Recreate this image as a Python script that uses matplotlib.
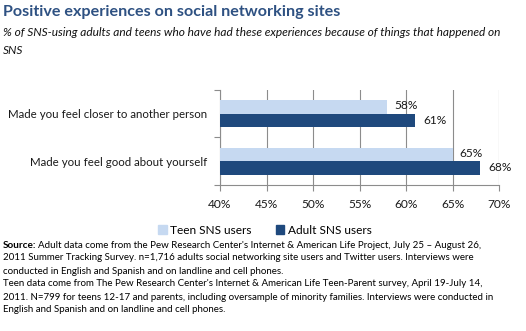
import matplotlib
matplotlib.use("Agg")
import matplotlib.pyplot as plt
from matplotlib.patches import Patch

plt.rcParams['font.family'] = ['Lato', 'DejaVu Sans']

categories = ["Made you feel closer to another person", "Made you feel good about yourself"]
teen = [58, 65]
adult = [61, 68]
ticks = [40, 45, 50, 55, 60, 65, 70]

teen_col = '#C6D9F1'
adult_col = '#1F497D'
grid_col = '#8C8C8C'
txt_col = '#1a1a1a'
W, H = 526, 331
fs = 8.6

fig = plt.figure(figsize=(W / 100, H / 100), dpi=100)

# axes placed in pixel terms
x0, x1, ytop, ybot = 220, 499, 90, 185
ax = fig.add_axes([x0 / W, 1 - ybot / H, (x1 - x0) / W, (ybot - ytop) / H])

ypos = list(range(len(categories)))
h = 0.28
ax.barh([y - h / 2 for y in ypos], teen, height=h, left=0, color=teen_col, zorder=3)
ax.barh([y + h / 2 for y in ypos], adult, height=h, left=0, color=adult_col, zorder=3)

for y, v in zip(ypos, teen):
    ax.annotate(f"{v}%", (v, y - h / 2), xytext=(5, 1), textcoords='offset points',
                ha='left', va='center', fontsize=fs, color=txt_col)
for y, v in zip(ypos, adult):
    ax.annotate(f"{v}%", (v, y + h / 2), xytext=(6, 0), textcoords='offset points',
                ha='left', va='center', fontsize=fs, color=txt_col)

ax.set_xlim(40, 70)
ax.set_ylim(1.5, -0.5)
ax.set_xticks(ticks)
ax.set_xticklabels([f"{t}%" for t in ticks], fontsize=fs, color=txt_col)
ax.set_yticks([-0.5, 0.5, 1.5])
ax.set_yticklabels([])
ax.set_yticks(ypos, minor=True)
ax.set_yticklabels(categories, minor=True, fontsize=8.3, color=txt_col)
ax.tick_params(axis='y', which='minor', length=0, pad=9)
ax.tick_params(axis='y', which='major', length=4, color=grid_col)
ax.tick_params(axis='x', length=4, color=grid_col, pad=6)
ax.grid(axis='x', color=grid_col, linewidth=0.8, zorder=0)
for s in ['top', 'right']:
    ax.spines[s].set_visible(False)
for s in ['left', 'bottom']:
    ax.spines[s].set_color(grid_col)
    ax.spines[s].set_linewidth(0.8)

handles = [Patch(color=teen_col, label='Teen SNS users'),
           Patch(color=adult_col, label='Adult SNS users')]
fig.legend(handles=handles, loc='center', bbox_to_anchor=(265 / W, 1 - 230 / H), ncol=2,
           frameon=False, fontsize=fs, handlelength=0.7, handleheight=0.7,
           handletextpad=0.3, columnspacing=2.0)

fig.text(3 / W, 1 - 12 / H, "Positive experiences on social networking sites", fontsize=11.6,
         fontweight='bold', color='#2E5182', va='center', ha='left')
fig.text(3 / W, 1 - 33 / H,
         "% of SNS-using adults and teens who have had these experiences because of things that happened on",
         fontsize=8.6, style='italic', color='#111111', va='center', ha='left')
fig.text(3 / W, 1 - 50 / H, "SNS", fontsize=8.6, style='italic', color='#111111', va='center', ha='left')

src = [
    (True, "Adult data come from the Pew Research Center's Internet & American Life Project, July 25 \u2013 August 26,"),
    (False, "2011 Summer Tracking Survey. n=1,716 adults social networking site users and Twitter users. Interviews were"),
    (False, "conducted in English and Spanish and on landline and cell phones."),
    (False, "Teen data come from The Pew Research Center's Internet & American Life Teen-Parent survey, April 19-July 14,"),
    (False, "2011. N=799 for teens 12-17 and parents, including oversample of minority families. Interviews were conducted in"),
    (False, "English and Spanish and on landline and cell phones."),
]
for i, (bold, line) in enumerate(src):
    y = 1 - (245 + 13 * i) / H
    if bold:
        t = fig.text(3 / W, y, "Source:", fontsize=7.2, fontweight='bold', va='center', ha='left')
        fig.canvas.draw()
        bb = t.get_window_extent()
        fig.text((bb.x1 + 2) / W, y, line, fontsize=7, va='center', ha='left')
    else:
        fig.text(3 / W, y, line, fontsize=7, va='center', ha='left')

fig.savefig("out.png", dpi=100)
